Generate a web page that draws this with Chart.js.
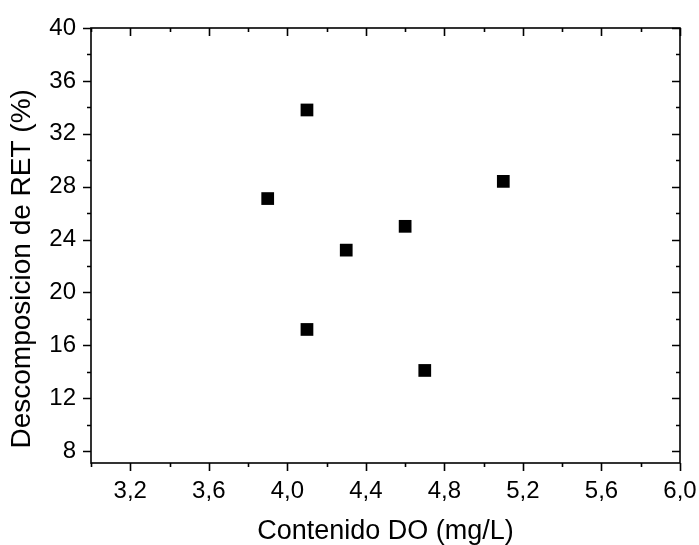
<!DOCTYPE html>
<html>
<head>
<meta charset="utf-8">
<script src="https://cdn.jsdelivr.net/npm/chart.js@4.4.0/dist/chart.umd.min.js"></script>
<style>
  html, body { margin: 0; padding: 0; background: #fff; }
  #wrap { width: 699px; height: 545px; }
</style>
</head>
<body>
<div id="wrap"><canvas id="scatterChart" width="699" height="545"></canvas></div>
<script>
// data
var doValues = [3.9, 4.1, 4.1, 4.3, 4.6, 4.7, 5.1];
var retValues = [27.1, 33.8, 17.2, 23.2, 25.0, 14.1, 28.4];
var xTicks = [3.2, 3.6, 4.0, 4.4, 4.8, 5.2, 5.6, 6.0];
var yTicks = [8, 12, 16, 20, 24, 28, 32, 36, 40];
var xMinor = [3.0, 3.4, 3.8, 4.2, 4.6, 5.0, 5.4, 5.8];
var yMinor = [10, 14, 18, 22, 26, 30, 34, 38];

var points = doValues.map(function (x, i) {
    return { x: x, y: retValues[i] };
});

var FONT = 'Liberation Sans, Arial, sans-serif';

// frame + tick marks on all four sides (ticks inside on top/right)
var frameTicks = {
    id: 'frameTicks',
    afterDraw: function (chart) {
        var ctx = chart.ctx;
        var a = chart.chartArea;
        var xs = chart.scales.x, ys = chart.scales.y;
        ctx.save();
        ctx.strokeStyle = '#000';
        ctx.lineWidth = 1.6;
        ctx.strokeRect(a.left, a.top, a.right - a.left, a.bottom - a.top);
        ctx.beginPath();
        function xt(list, len) {
            list.forEach(function (v) {
                var px = Math.round(xs.getPixelForValue(v)) + 0.5;
                ctx.moveTo(px, a.bottom); ctx.lineTo(px, a.bottom + len);
                ctx.moveTo(px, a.top); ctx.lineTo(px, a.top + len);
            });
        }
        function yt(list, len) {
            list.forEach(function (v) {
                var py = Math.round(ys.getPixelForValue(v)) + 0.5;
                ctx.moveTo(a.left, py); ctx.lineTo(a.left - len, py);
                ctx.moveTo(a.right, py); ctx.lineTo(a.right - len, py);
            });
        }
        xt(xTicks, 8); xt(xMinor, 4);
        yt(yTicks, 8); yt(yMinor, 4);
        ctx.stroke();
        ctx.restore();
    }
};

var ctx = document.getElementById('scatterChart').getContext('2d');
var myChart = new Chart(ctx, {
    type: 'scatter',
    data: {
        datasets: [{
            data: points,
            pointStyle: 'rect',
            pointRadius: 9,
            pointBorderWidth: 0,
            backgroundColor: '#000',
            borderColor: '#000'
        }]
    },
    options: {
        responsive: false,
        animation: false,
        layout: { padding: { top: 28, right: 19, left: 0, bottom: 0 } },
        plugins: { legend: { display: false }, tooltip: { enabled: false } },
        scales: {
            x: {
                type: 'linear',
                min: 3.0,
                max: 6.0,
                afterBuildTicks: function (scale) {
                    scale.ticks = xTicks.map(function (v) { return { value: v }; });
                },
                afterFit: function (scale) {
                    scale.height = 82;
                    scale.paddingLeft = 0;
                    scale.paddingRight = 0;
                },
                grid: { display: false, drawTicks: false, tickLength: 0 },
                border: { display: false },
                ticks: {
                    color: '#000',
                    padding: 14,
                    maxRotation: 0,
                    font: { family: FONT, size: 24 },
                    callback: function (v) { return Number(v).toFixed(1).replace('.', ','); }
                },
                title: {
                    display: true,
                    text: 'Contenido DO (mg/L)',
                    color: '#000',
                    padding: { top: 0, bottom: 0 },
                    font: { family: FONT, size: 27, lineHeight: 1 }
                }
            },
            y: {
                type: 'linear',
                min: 7.1,
                max: 40,
                afterBuildTicks: function (scale) {
                    scale.ticks = yTicks.map(function (v) { return { value: v }; });
                },
                afterFit: function (scale) {
                    scale.width = 91;
                    scale.paddingTop = 0;
                    scale.paddingBottom = 0;
                },
                grid: { display: false, drawTicks: false, tickLength: 0 },
                border: { display: false },
                ticks: {
                    color: '#000',
                    padding: 15,
                    font: { family: FONT, size: 24 }
                },
                title: {
                    display: true,
                    // trailing no-break spaces push the title down a bit, like the original
                    text: 'Descomposicion de RET (%)\u00a0\u00a0\u00a0\u00a0\u00a0\u00a0',
                    color: '#000',
                    padding: { top: 8, bottom: 0 },
                    font: { family: FONT, size: 28, lineHeight: 1 }
                }
            }
        }
    },
    plugins: [frameTicks]
});
</script>
</body>
</html>
